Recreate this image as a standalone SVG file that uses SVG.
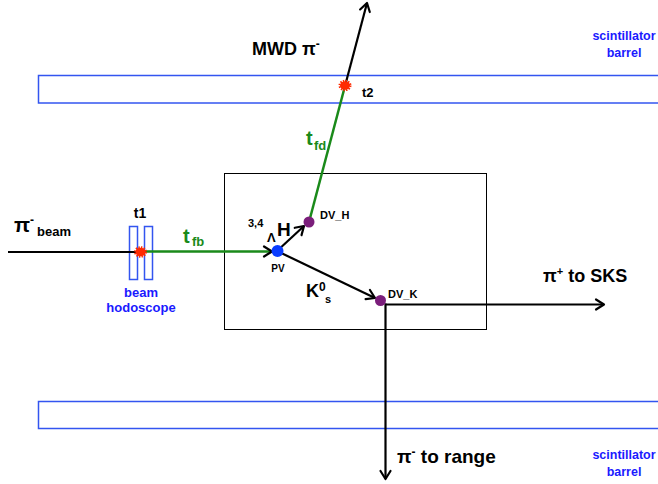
<svg xmlns="http://www.w3.org/2000/svg" width="658" height="484" viewBox="0 0 658 484">
<defs>
<style>
text{font-family:"Liberation Sans",Arial,sans-serif;font-weight:bold;fill:#000}
.blue{fill:#1a1aff}
.green{fill:#1a8a1a}
.barrel{fill:none;stroke:#3355f0;stroke-width:1.5}
.hodo{fill:#fff;stroke:#3355f0;stroke-width:1.5}
.trk{fill:none;stroke:#000;stroke-width:2.2}
.gtrk{fill:none;stroke:#1a8a1a;stroke-width:2.5}
.star{fill:#ff2a00;stroke:#ff2a00;stroke-width:3;stroke-dasharray:1.3 1.1}
</style>
<marker id="arr" markerUnits="userSpaceOnUse" markerWidth="16" markerHeight="16" viewBox="-10 -8 12 16" refX="0" refY="0" orient="auto">
<path d="M-8,-5 L0,0 L-8,5" fill="none" stroke="#000" stroke-width="2.2" stroke-linecap="round" stroke-linejoin="round"/>
</marker>
</defs>
<rect width="658" height="484" fill="#fff"/>

<g id="barrel-top"><rect class="barrel" x="38.5" y="75.5" width="700" height="27.5"/></g>
<g id="barrel-bottom"><rect class="barrel" x="38.5" y="401.5" width="700" height="27"/></g>
<g id="target-box"><rect x="224.5" y="173.5" width="262" height="156" fill="none" stroke="#000" stroke-width="1"/></g>
<g id="hodoscope">
<rect class="hodo" x="129.5" y="226.5" width="8" height="53"/>
<rect class="hodo" x="144.5" y="226.5" width="8" height="53"/>
</g>

<g id="connectors">
<line class="trk" x1="8" y1="252" x2="140" y2="252"/>
<line class="gtrk" x1="140" y1="251.5" x2="271" y2="251.5"/>
<line class="trk" x1="271" y1="251.5" x2="272" y2="251.5" marker-end="url(#arr)"/>
<line class="trk" x1="277" y1="251" x2="304" y2="226" marker-end="url(#arr)"/>
<line class="trk" x1="277" y1="251" x2="375" y2="298" marker-end="url(#arr)"/>
<line class="gtrk" x1="309" y1="222" x2="345" y2="86"/>
<line class="trk" x1="345" y1="86" x2="367" y2="3" marker-end="url(#arr)"/>
<line class="trk" x1="385" y1="304.5" x2="604" y2="304.5" marker-end="url(#arr)"/>
<line class="trk" x1="385.5" y1="303.5" x2="385.5" y2="479" marker-end="url(#arr)"/>
</g>

<g id="PV"><circle cx="277.5" cy="251" r="6" fill="#0a3cff"/></g>
<g id="DV_H"><circle cx="309" cy="222" r="5.5" fill="#7b1e7b"/></g>
<g id="DV_K"><circle cx="380.5" cy="300.5" r="5.5" fill="#7b1e7b"/></g>
<g id="t1-hit"><ellipse class="star" cx="140.5" cy="252" rx="5" ry="4.2"/></g>
<g id="t2-hit"><ellipse class="star" cx="345" cy="85.5" rx="5" ry="4.2"/></g>

<g id="labels">
<text x="14" y="232" font-size="21">π</text>
<text x="30" y="224" font-size="12">-</text>
<text x="37" y="236" font-size="13">beam</text>
<text x="140" y="218" font-size="14" text-anchor="middle">t1</text>
<text x="183" y="243" font-size="20" class="green">t</text>
<text x="192" y="246" font-size="13" class="green">fb</text>
<text x="141" y="297" font-size="13" class="blue" text-anchor="middle">beam</text>
<text x="141" y="311.5" font-size="13" class="blue" text-anchor="middle">hodoscope</text>
<text x="248" y="227" font-size="11">3,4</text>
<text x="267" y="242" font-size="13">Λ</text>
<text x="277" y="236" font-size="19">H</text>
<text x="278" y="272" font-size="10" text-anchor="middle">PV</text>
<text x="320" y="219" font-size="11">DV_H</text>
<text x="306" y="297" font-size="18">K</text>
<text x="319" y="291" font-size="12">0</text>
<text x="325" y="303" font-size="11">s</text>
<text x="388" y="298" font-size="11">DV_K</text>
<text x="543" y="282" font-size="18">π<tspan font-size="11" dy="-7">+</tspan><tspan dy="7"> to SKS</tspan></text>
<text x="252" y="55" font-size="18">MWD π<tspan font-size="12" dy="-7">-</tspan></text>
<text x="362" y="97" font-size="13">t2</text>
<text x="306" y="145" font-size="20" class="green">t</text>
<text x="314" y="150" font-size="13" class="green">fd</text>
<text x="397" y="463" font-size="19">π<tspan font-size="12" dy="-7">-</tspan><tspan dy="7"> to range</tspan></text>
<text x="624" y="40" font-size="12.5" class="blue" text-anchor="middle">scintillator</text>
<text x="624" y="57" font-size="12.5" class="blue" text-anchor="middle">barrel</text>
<text x="624" y="459" font-size="12.5" class="blue" text-anchor="middle">scintillator</text>
<text x="624" y="476" font-size="12.5" class="blue" text-anchor="middle">barrel</text>
</g>
</svg>
